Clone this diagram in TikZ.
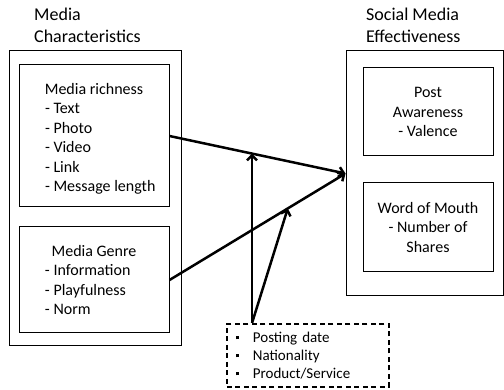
\documentclass[tikz,border=0pt]{standalone}
\usepackage{fontspec}
\setmainfont{Carlito}
\usetikzlibrary{arrows.meta}
\newcommand\itm[1]{\makebox[98pt][l]{- #1}}
\newcommand\sqb{\rule[3pt]{3.5pt}{3.5pt}\hspace{13.5pt}}
\begin{document}
\begin{tikzpicture}[x=1pt,y=-1pt,
    box/.style={draw,line width=1pt,inner sep=0pt},
    lbl/.style={font=\fontsize{16}{19.5}\selectfont},
    ttl/.style={font=\fontsize{18}{22}\selectfont,anchor=north west,inner sep=0,align=left},
    link/.style={line width=2.5pt,-{Straight Barb[length=5pt,width=10pt]}}]
    \useasboundingbox (0,0) rectangle (504,390);
    % left side
    \node[ttl] (charstitle) at (34,8) {Media\\Characteristics};
    \node[box,minimum width=172,minimum height=295] (chars) at (95,198.5) {};
    \node[box,lbl,minimum width=150,minimum height=142,align=center] (rich) at (94,136)
        {\rule{0pt}{17pt}Media richness\\\itm{Text}\\\itm{Photo}\\\itm{Video}\\\itm{Link}\\\itm{Message length}};
    \node[box,lbl,minimum width=150,minimum height=106,align=center] (genre) at (94,280)
        {Media Genre\\\itm{Information}\\\itm{Playfulness}\\\itm{Norm}};
    % right side
    \node[ttl] (efftitle) at (366,8) {Social Media\\Effectiveness};
    \node[box,minimum width=157,minimum height=245] (eff) at (424.5,173.5) {};
    \node[box,lbl,minimum width=130,minimum height=88,align=center] (aware) at (428,112)
        {Post\\Awareness\\- Valence};
    \node[box,lbl,minimum width=130,minimum height=89,align=center] (wom) at (428,227.5)
        {Word of Mouth\\- Number of\\Shares};
    % controls
    \node[box,dashed,dash pattern=on 5pt off 3.5pt,line width=1.8pt,anchor=north west,
        inner xsep=9pt,text width=144pt,minimum height=63,align=left,
        font=\fontsize{15}{18}\selectfont] (ctrl) at (226,323)
        {\sqb Posting date\\\sqb Nationality\\\sqb Product/Service};
    \draw[link] (rich.east) -- coordinate[pos=0.469] (m1) (eff.west);
    \draw[link] (genre.east) -- coordinate[pos=0.672] (m2) (eff.west);
    \draw[link] (ctrl.north -| m1) -- (m1);
    \draw[link] (ctrl.north -| m1) -- (m2);
\end{tikzpicture}
\end{document}
